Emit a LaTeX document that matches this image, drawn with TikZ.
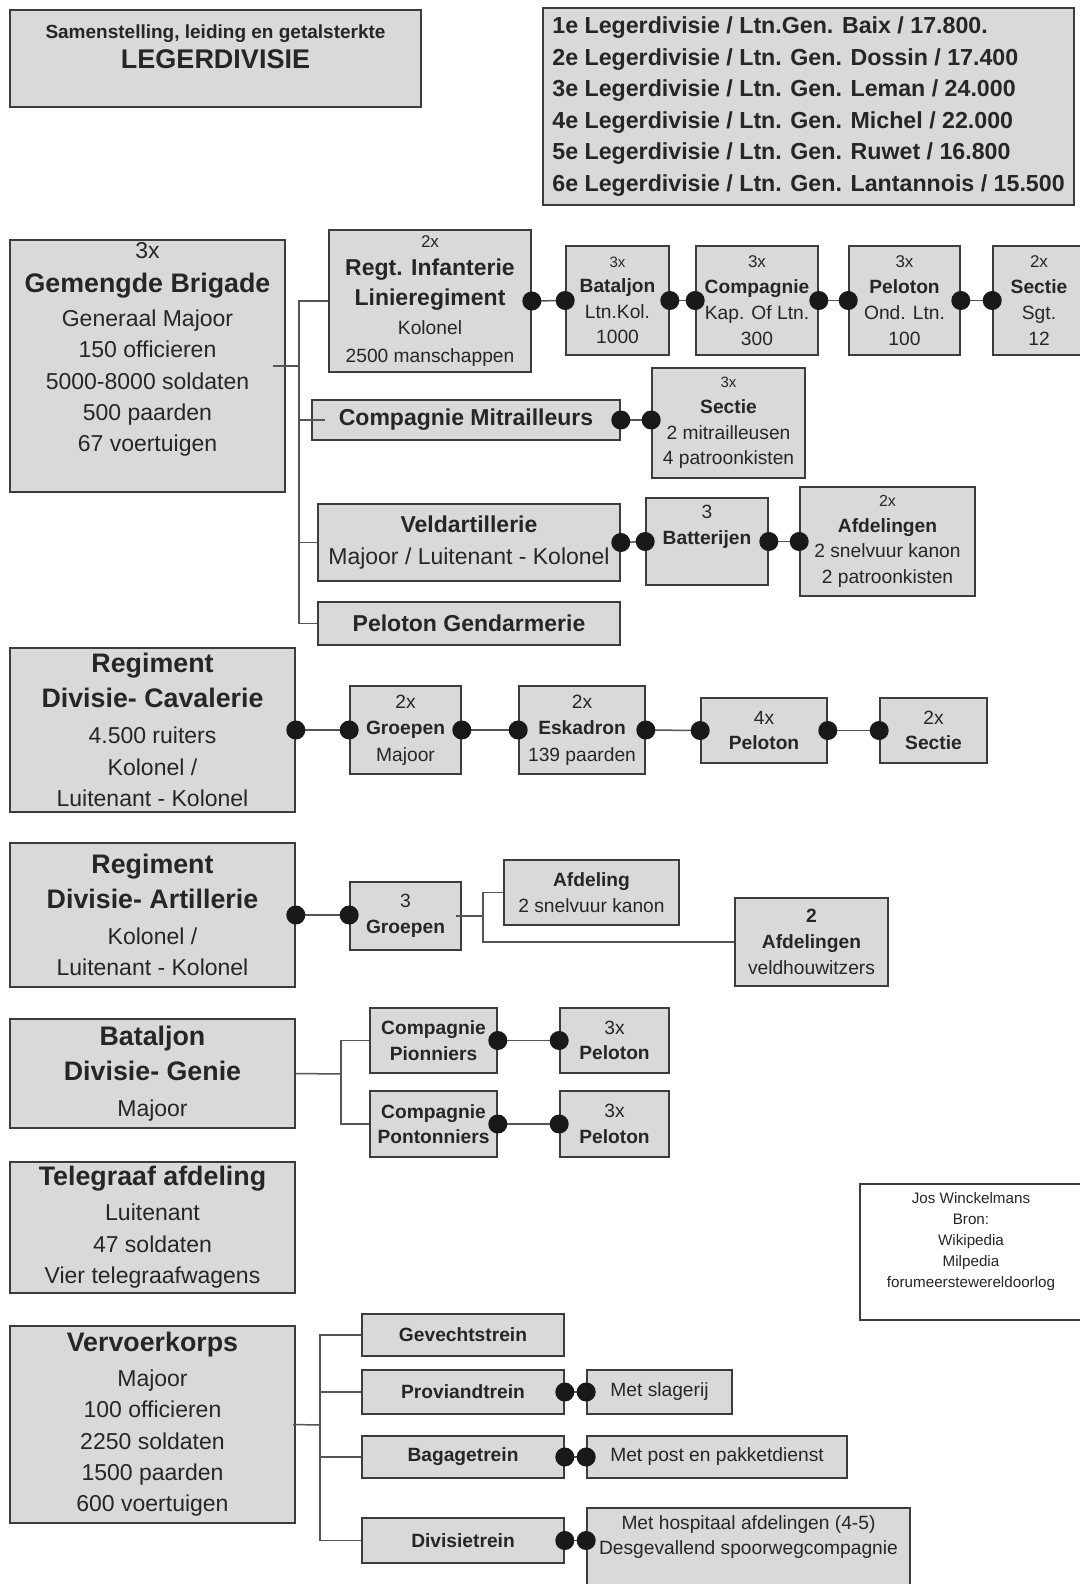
\documentclass[tikz,border=0pt]{standalone}
\usepackage{fontspec}
\setmainfont{Liberation Sans}
\usetikzlibrary{arrows.meta,calc}
\definecolor{bf}{RGB}{216,217,219}
\definecolor{bc}{RGB}{60,60,60}
\definecolor{lc}{RGB}{85,85,85}
\definecolor{tc}{RGB}{38,38,38}
\definecolor{dc}{RGB}{25,25,25}
\newcommand\fTi{\fontsize{13.4}{17}\selectfont\bfseries}
\newcommand\fN{\fontsize{11.5}{15.6}\selectfont}
\newcommand\fS{\fontsize{9.6}{12.8}\selectfont}
\newcommand\fX{\fontsize{7.5}{9}\selectfont}
\newcommand\fXX{\fontsize{8.5}{9}\selectfont}
\newcommand\bxx[7][]{\node[box,minimum width={(#5-#3)*0.5pt},minimum height={(#6-#4)*0.5pt},#1] (#2) at ({(#3+#5)/2},{(#4+#6)/2}) {#7};}
\begin{document}
\begin{tikzpicture}[x=0.5pt,y=-0.5pt,
  box/.style={draw=bc,fill=bf,line width=0.8pt,inner sep=0pt,align=center,text=tc,font=\fS},
  ln/.style={draw=lc,line width=0.75pt},
  dl/.style={ln,{Circle[length=9.5pt,width=9.5pt,color=dc]}-{Circle[length=9.5pt,width=9.5pt,color=dc]},shorten <=-4.75pt,shorten >=-4.75pt}]
\useasboundingbox (0,0) rectangle (1080,1584);
\fill[white] (0,0) rectangle (1080,1584);
\begin{scope}
\clip (0,0) rectangle (1080,1584);
% header
\bxx[font=\fontsize{9.5}{15}\selectfont\bfseries]{title}{10}{10}{421}{107}{Samenstelling, leiding en getalsterkte\\{\fontsize{13.5}{15}\selectfont LEGERDIVISIE}\\[-3pt]\mbox{}}
\bxx[align=left,font=\fontsize{11.6}{15.8}\selectfont\bfseries]{divs}{543}{8}{1074}{205}{1e Legerdivisie / Ltn.Gen. Baix / 17.800.\\2e Legerdivisie / Ltn. Gen. Dossin / 17.400\\3e Legerdivisie / Ltn. Gen. Leman / 24.000\\4e Legerdivisie / Ltn. Gen. Michel / 22.000\\5e Legerdivisie / Ltn. Gen. Ruwet / 16.800\\6e Legerdivisie / Ltn. Gen. Lantannois / 15.500}

% gemengde brigade
\bxx[font=\fN]{bri}{10}{240}{285}{492}{3x\\[1.5pt]{\fTi Gemengde Brigade}\\[1.5pt]Generaal Majoor\\150 officieren\\5000-8000 soldaten\\500 paarden\\67 voertuigen\\[3.5pt]\mbox{}}
\bxx[font=\fontsize{9.6}{14.2}\selectfont]{rinf}{329}{230}{531}{372}{{\fXX 2x}\\{\fontsize{11.5}{14}\selectfont\bfseries Regt. Infanterie}\\[0.7pt]{\fontsize{11.5}{14}\selectfont\bfseries Linieregiment}\\Kolonel\\2500 manschappen}
\bxx[font=\fontsize{9.6}{12.7}\selectfont]{bat}{566}{246}{669}{355}{{\fX 3x}\\\textbf{Bataljon}\\Ltn.Kol.\\1000}
\bxx[font=\fontsize{9.6}{13}\selectfont]{comp}{696}{246}{818}{355}{{\fXX 3x}\\\textbf{Compagnie}\\Kap. Of Ltn.\\300}
\bxx[font=\fontsize{9.6}{13}\selectfont]{pel}{849}{246}{960}{355}{{\fXX 3x}\\\textbf{Peloton}\\Ond. Ltn.\\100}
\bxx[font=\fontsize{9.6}{13}\selectfont]{sec}{993}{246}{1085}{355}{{\fXX 2x}\\\textbf{Sectie}\\Sgt.\\12}
\bxx[font=\fontsize{11.5}{14}\selectfont\bfseries]{mitr}{312}{400}{620}{440}{Compagnie Mitrailleurs}
\bxx[font=\fontsize{9.6}{12.8}\selectfont]{msec}{652}{368}{805}{478}{{\fX 3x}\\\textbf{Sectie}\\2 mitrailleusen\\4 patroonkisten}
\bxx[font=\fN]{veld}{318}{504}{620}{581}{\textbf{Veldartillerie}\\Majoor / Luitenant - Kolonel}
\bxx[font=\fontsize{9.6}{13}\selectfont]{batt}{646}{498}{768}{585}{3\\\textbf{Batterijen}\\[3.3pt]\mbox{}}
\bxx[font=\fontsize{9.6}{12.7}\selectfont]{vafd}{800}{487}{975}{596}{{\fontsize{8}{9}\selectfont 2x}\\\textbf{Afdelingen}\\2 snelvuur kanon\\2 patroonkisten}
\bxx[font=\fontsize{11.5}{14}\selectfont\bfseries]{gend}{318}{602}{620}{645}{Peloton Gendarmerie}

\coordinate (bb) at (299,366);
\draw[ln] ([xshift=-6.5pt]bri.east) -- (bb);
\draw[ln] (rinf.west) -| (bb) |- (gend.west);
\draw[ln] (bb |- mitr.west) -- ([xshift=7pt]mitr.west);
\draw[ln] (bb |- veld.west) -- (veld.west);
\draw[dl] (rinf.east) -- (bat.west);
\draw[dl] (bat.east) -- (comp.west);
\draw[dl] (comp.east) -- (pel.west);
\draw[dl] (pel.east) -- (sec.west);
\draw[dl] (mitr.east) -- (mitr.east -| msec.west);
\draw[dl] (veld.east) -- (batt.west);
\draw[dl] (batt.east) -- (vafd.west);

% cavalerie
\bxx[font=\fontsize{11.5}{15.8}\selectfont]{cav}{10}{648}{295}{812}{{\fTi Regiment}\\[1.8pt]{\fTi Divisie- Cavalerie}\\[2pt]4.500 ruiters\\Kolonel /\\Luitenant - Kolonel}
\bxx[font=\fontsize{9.6}{13.2}\selectfont]{cgr}{350}{686}{461}{774}{2x\\\textbf{Groepen}\\Majoor}
\bxx[font=\fontsize{9.6}{13.2}\selectfont]{cesk}{519}{686}{645}{774}{2x\\\textbf{Eskadron}\\139 paarden}
\bxx[font=\fontsize{9.6}{12.6}\selectfont]{cpel}{701}{698}{827}{763}{4x\\\textbf{Peloton}}
\bxx[font=\fontsize{9.6}{12.6}\selectfont]{csec}{880}{698}{987}{763}{2x\\\textbf{Sectie}}
\draw[dl] (cav.east) -- (cgr.west);
\draw[dl] (cgr.east) -- (cesk.west);
\draw[dl] (cesk.east) -- (cpel.west);
\draw[dl] (cpel.east) -- (csec.west);

% artillerie
\bxx[font=\fontsize{11.5}{15.8}\selectfont]{art}{10}{843}{295}{987}{{\fTi Regiment}\\[1.8pt]{\fTi Divisie- Artillerie}\\[1.8pt]Kolonel /\\Luitenant - Kolonel}
\bxx[font=\fontsize{9.6}{13}\selectfont]{agr}{350}{882}{461}{950}{3\\\textbf{Groepen}}
\bxx[font=\fontsize{9.6}{13}\selectfont]{aafd1}{504}{860}{679}{925}{\textbf{Afdeling}\\2 snelvuur kanon}
\bxx[font=\fontsize{9.6}{13}\selectfont]{aafd2}{735}{898}{888}{986}{\textbf{2}\\\textbf{Afdelingen}\\veldhouwitzers}
\draw[dl] (art.east) -- (art.east -| agr.west);
\coordinate (ab) at (483,916);
\draw[ln] ([xshift=-3pt]agr.east) -- (ab);
\draw[ln] (aafd1.west) -| (ab) |- (aafd2.west);

% genie
\bxx[font=\fontsize{11.5}{15.8}\selectfont]{gen}{10}{1019}{295}{1128}{{\fTi Bataljon}\\[1.8pt]{\fTi Divisie- Genie}\\[1.8pt]Majoor}
\bxx[font=\fontsize{9.6}{12.7}\selectfont\bfseries]{pio}{370}{1008}{497}{1073}{Compagnie\\Pionniers}
\bxx[font=\fontsize{9.6}{12.7}\selectfont]{gpel1}{560}{1008}{669}{1073}{3x\\\textbf{Peloton}}
\bxx[font=\fontsize{9.6}{12.7}\selectfont\bfseries]{pon}{370}{1091}{497}{1157}{Compagnie\\Pontonniers}
\bxx[font=\fontsize{9.6}{12.7}\selectfont]{gpel2}{560}{1091}{669}{1157}{3x\\\textbf{Peloton}}
\coordinate (gb) at (341,1074);
\draw[ln] (gen.east) -- (gb);
\draw[ln] (pio.west) -| (gb) |- (pon.west);
\draw[dl] (pio.east) -- (gpel1.west);
\draw[dl] (pon.east) -- (gpel2.west);

% telegraaf
\bxx[font=\fontsize{11.5}{15.8}\selectfont]{tel}{10}{1162}{295}{1293}{{\fTi Telegraaf afdeling}\\[1.5pt]Luitenant\\47 soldaten\\Vier telegraafwagens}

% bron
\bxx[fill=white,line width=0.6pt,font=\fontsize{7.6}{10.5}\selectfont]{jos}{860}{1184}{1082}{1320}{Jos Winckelmans\\Bron:\\Wikipedia\\Milpedia\\forumeerstewereldoorlog\\[1.5pt]\mbox{}}

% vervoerkorps
\bxx[font=\fontsize{11.5}{15.7}\selectfont]{vk}{10}{1326}{295}{1523}{{\fTi Vervoerkorps}\\[1.5pt]Majoor\\100 officieren\\2250 soldaten\\1500 paarden\\600 voertuigen}
\bxx[font=\fS\bfseries]{gev}{362}{1314}{564}{1356}{Gevechtstrein}
\bxx[font=\fS\bfseries]{prov}{362}{1370}{564}{1414}{Proviandtrein}
\bxx[font=\fS]{slag}{587}{1370}{732}{1414}{Met slagerij}
\bxx[font=\fS\bfseries]{bag}{362}{1436}{564}{1478}{Bagagetrein}
\bxx[font=\fS]{post}{587}{1436}{847}{1478}{Met post en pakketdienst}
\bxx[font=\fS\bfseries]{div}{362}{1518}{564}{1563}{Divisietrein}
\bxx[font=\fontsize{9.6}{12.5}\selectfont]{hosp}{587}{1508}{910}{1588}{Met hospitaal afdelingen (4-5)\\Desgevallend spoorwegcompagnie\\\mbox{}}
\coordinate (vb) at (320,1425);
\draw[ln] ([xshift=-1.5pt]vk.east) -- (vb);
\draw[ln] (gev.west) -| (vb) |- (div.west);
\draw[ln] (vb |- prov.west) -- (prov.west);
\draw[ln] (vb |- bag.west) -- (bag.west);
\draw[dl] (prov.east) -- (slag.west);
\draw[dl] (bag.east) -- (post.west);
\draw[dl] (div.east) -- (div.east -| hosp.west);
\end{scope}
\end{tikzpicture}
\end{document}
